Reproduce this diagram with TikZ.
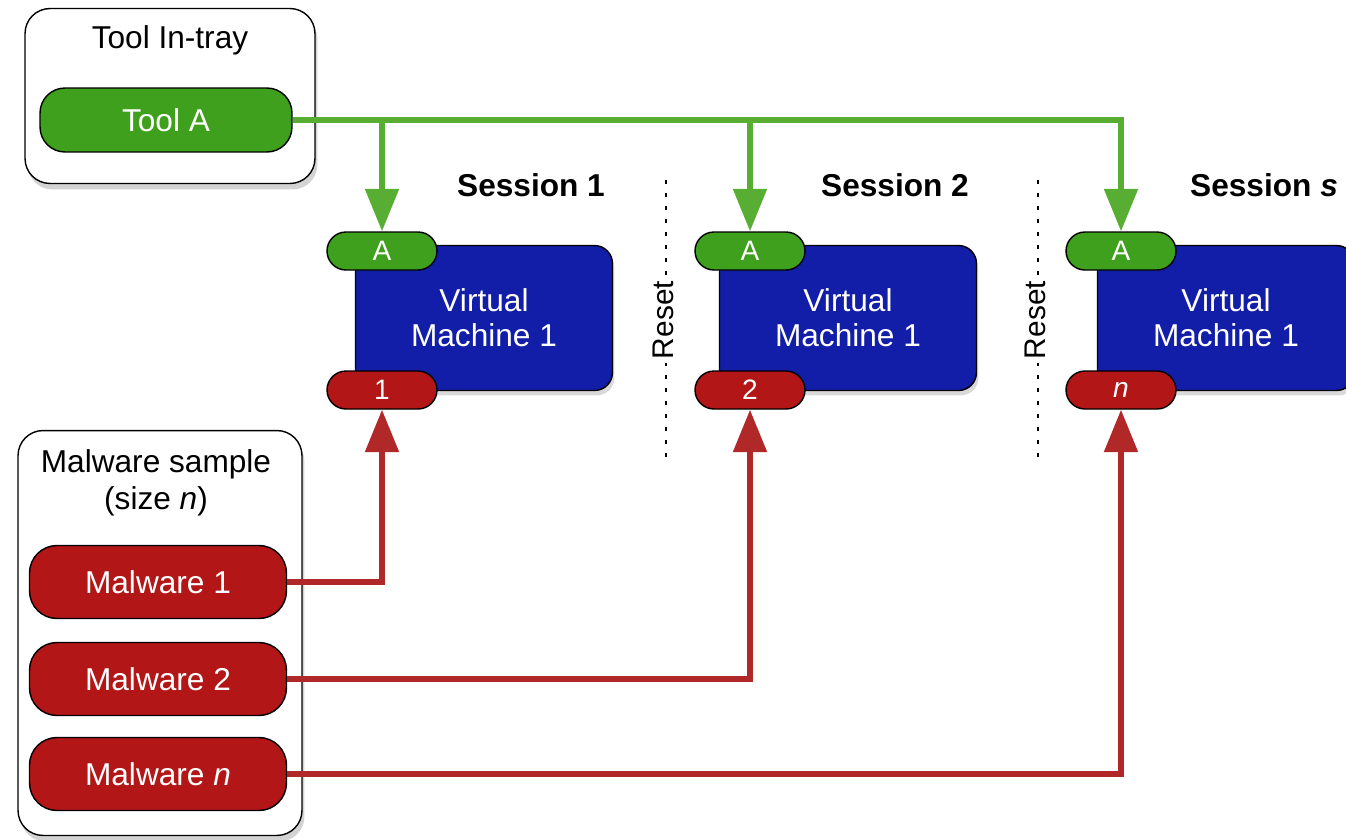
\documentclass[tikz,border=0pt]{standalone}
\usepackage{fontspec}
\setmainfont{Liberation Sans}
\usepackage{tikz}
\usetikzlibrary{shapes,arrows.meta,positioning,calc,shadows}

\definecolor{toolgreen}{RGB}{62,160,28}
\definecolor{linegreen}{RGB}{88,174,50}
\definecolor{malred}{RGB}{178,22,22}
\definecolor{linered}{RGB}{176,40,40}
\definecolor{vmblue}{RGB}{18,30,168}

\begin{document}
\begin{tikzpicture}[x=0.02cm, y=-0.02cm]
  \tikzstyle{tray} = [rectangle, draw, thick, fill=white, rounded corners=0.5cm, drop shadow={shadow xshift=0.05cm, shadow yshift=-0.12cm, opacity=0.35}]
  \tikzstyle{tool} = [rectangle, draw, thick, fill=toolgreen, text=white, rounded corners=0.5cm, minimum width=5.04cm, minimum height=1.28cm, font=\fontsize{18}{21}\selectfont]
  \tikzstyle{malware} = [rectangle, draw, thick, fill=malred, text=white, rounded corners=0.55cm, minimum width=5.14cm, minimum height=1.46cm, font=\fontsize{18}{21}\selectfont]
  \tikzstyle{vm} = [rectangle, draw, thick, fill=vmblue, text=white, rounded corners=0.36cm, minimum width=5.14cm, minimum height=2.9cm, align=center, font=\fontsize{18}{20}\selectfont, drop shadow={shadow xshift=0.04cm, shadow yshift=-0.1cm, opacity=0.3}]
  \tikzstyle{tag} = [rectangle, draw, thick, text=white, rounded corners=0.38cm, minimum width=2.2cm, minimum height=0.76cm, inner sep=0pt, font=\fontsize{16}{18}\selectfont]
  \tikzstyle{session} = [font=\bfseries\fontsize{18}{21}\selectfont]
  \tikzstyle{greenarrow} = [draw=linegreen, line width=3.1pt, -{Triangle[length=0.85cm, width=0.66cm]}, linegreen]
  \tikzstyle{redarrow} = [draw=linered, line width=3.1pt, -{Triangle[length=0.85cm, width=0.66cm]}, linered]
  \tikzstyle{reset} = [line width=1.6pt, dash pattern=on 2.4pt off 5pt]

  \useasboundingbox (0,0) rectangle (1346,839);

  % tool in-tray
  \node [tray, minimum width=5.8cm, minimum height=3.5cm] (intray) at (170,96) {};
  \node [font=\fontsize{18}{21}\selectfont] (intraytitle) at (170,40) {Tool In-tray};
  \node [tool] (toolA) at (166,120) {Tool A};

  % malware sample
  \node [tray, minimum width=5.68cm, minimum height=8.1cm] (sample) at (160,633) {};
  \node [align=center, font=\fontsize{18}{21}\selectfont] (sampletitle) at (156,483) {Malware sample\\(size \textit{n})};
  \node [malware] (mal1) at (158,582) {Malware 1};
  \node [malware] (mal2) at (158,679) {Malware 2};
  \node [malware] (maln) at (158,774) {Malware \textit{n}};

  % sessions
  \node [session] (ses1) at (531,185) {Session 1};
  \node [session] (ses2) at (895,185) {Session 2};
  \node [session] (ses3) at (1264,185) {Session \textit{s}};

  \node [vm] (vm1) at (484,318) {Virtual\\Machine 1};
  \node [vm] (vm2) at (848,318) {Virtual\\Machine 1};
  \node [vm] (vm3) at (1226,318) {Virtual\\Machine 1};

  \node [tag, fill=toolgreen] (tagA1) at (382,251) {A};
  \node [tag, fill=toolgreen] (tagA2) at (750,251) {A};
  \node [tag, fill=toolgreen] (tagA3) at (1121,251) {A};
  \node [tag, fill=malred] (tagM1) at (382,390) {1};
  \node [tag, fill=malred] (tagM2) at (750,390) {2};
  \node [tag, fill=malred] (tagM3) at (1121,390) {\textit{n}};

  % resets
  \coordinate (rs1top) at (666,180);
  \coordinate (rs1bot) at (666,462);
  \coordinate (rs2top) at (1038,180);
  \coordinate (rs2bot) at (1038,462);
  \draw [reset] (rs1top) -- (rs1bot);
  \draw [reset] (rs2top) -- (rs2bot);
  \node [fill=white, rotate=90, inner sep=2pt, font=\fontsize{17}{19}\selectfont] (reset1) at (663,320) {Reset};
  \node [fill=white, rotate=90, inner sep=2pt, font=\fontsize{17}{19}\selectfont] (reset2) at (1035,320) {Reset};

  \draw [greenarrow] (toolA.east) -| (tagA3.north);
  \draw [greenarrow] (toolA.east) -| (tagA2.north);
  \draw [greenarrow] (toolA.east) -| (tagA1.north);

  \draw [redarrow] (mal1.east) -| (tagM1.south);
  \draw [redarrow] (mal2.east) -| (tagM2.south);
  \draw [redarrow] (maln.east) -| (tagM3.south);
\end{tikzpicture}
\end{document}
